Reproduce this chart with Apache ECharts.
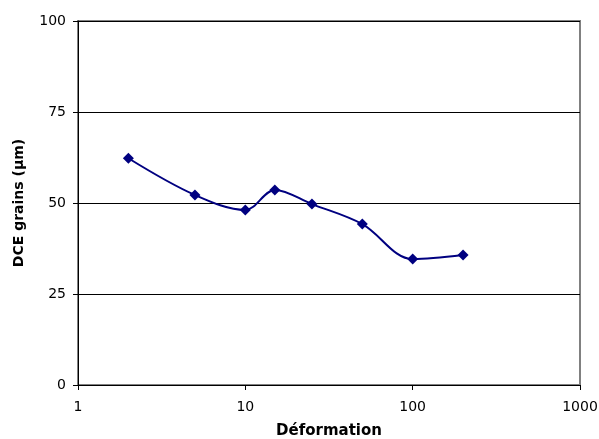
<!DOCTYPE html>
<html><head><meta charset="utf-8">
<script src="https://cdn.jsdelivr.net/npm/echarts@6/dist/echarts.min.js"></script>
<style>html,body{margin:0;padding:0;background:#fff}#c{width:599px;height:439px}</style>
</head><body><div id="c"></div>
<script>
const deformation = [2, 5, 10, 15, 25, 50, 100, 200];
const dceGrains = [62.3, 52.2, 48.1, 53.6, 49.7, 44.2, 34.6, 35.7];
const yTicks = [0, 25, 50, 75, 100];
const xTicks = [1, 10, 100, 1000];

const chart = echarts.init(document.getElementById('c'), null, {renderer: 'canvas'});
const font = 'DejaVu Sans, Verdana, sans-serif';
chart.setOption({
  animation: false,
  backgroundColor: '#fff',
  grid: {left: 78, top: 21, right: 19, bottom: 54, containLabel: false, outerBoundsMode: 'none',
    show: true, borderColor: '#808080', borderWidth: 2, backgroundColor: 'transparent'},
  xAxis: {
    type: 'log', logBase: 10, min: xTicks[0], max: xTicks[xTicks.length - 1],
    name: 'Déformation', nameLocation: 'middle', nameGap: 39,
    nameTextStyle: {fontFamily: font, fontWeight: 'bold', fontSize: 15, color: '#000'},
    axisLine: {show: true, lineStyle: {color: '#000', width: 1}},
    axisTick: {show: true, length: 5, lineStyle: {color: '#000'}},
    minorTick: {show: false},
    splitLine: {show: false},
    axisLabel: {fontFamily: font, fontSize: 14, color: '#000', margin: 15,
      formatter: v => String(Math.round(v))}
  },
  yAxis: {
    type: 'value', min: yTicks[0], max: yTicks[yTicks.length - 1], interval: 25,
    name: 'DCE grains (µm)', nameLocation: 'middle', nameGap: 52, nameRotate: 90,
    nameTextStyle: {fontFamily: font, fontWeight: 'bold', fontSize: 14, color: '#000'},
    axisLine: {show: true, lineStyle: {color: '#000', width: 1}},
    axisTick: {show: true, length: 5, lineStyle: {color: '#000'}},
    splitLine: {show: true, lineStyle: {color: '#000', width: 1}},
    axisLabel: {fontFamily: font, fontSize: 14, color: '#000', margin: 12}
  },
  series: [{
    type: 'line',
    data: deformation.map((x, i) => [x, dceGrains[i]]),
    smooth: 0.35,
    symbol: 'diamond',
    symbolSize: 11,
    lineStyle: {color: '#000080', width: 2},
    itemStyle: {color: '#000080'}
  }]
});
</script></body></html>
